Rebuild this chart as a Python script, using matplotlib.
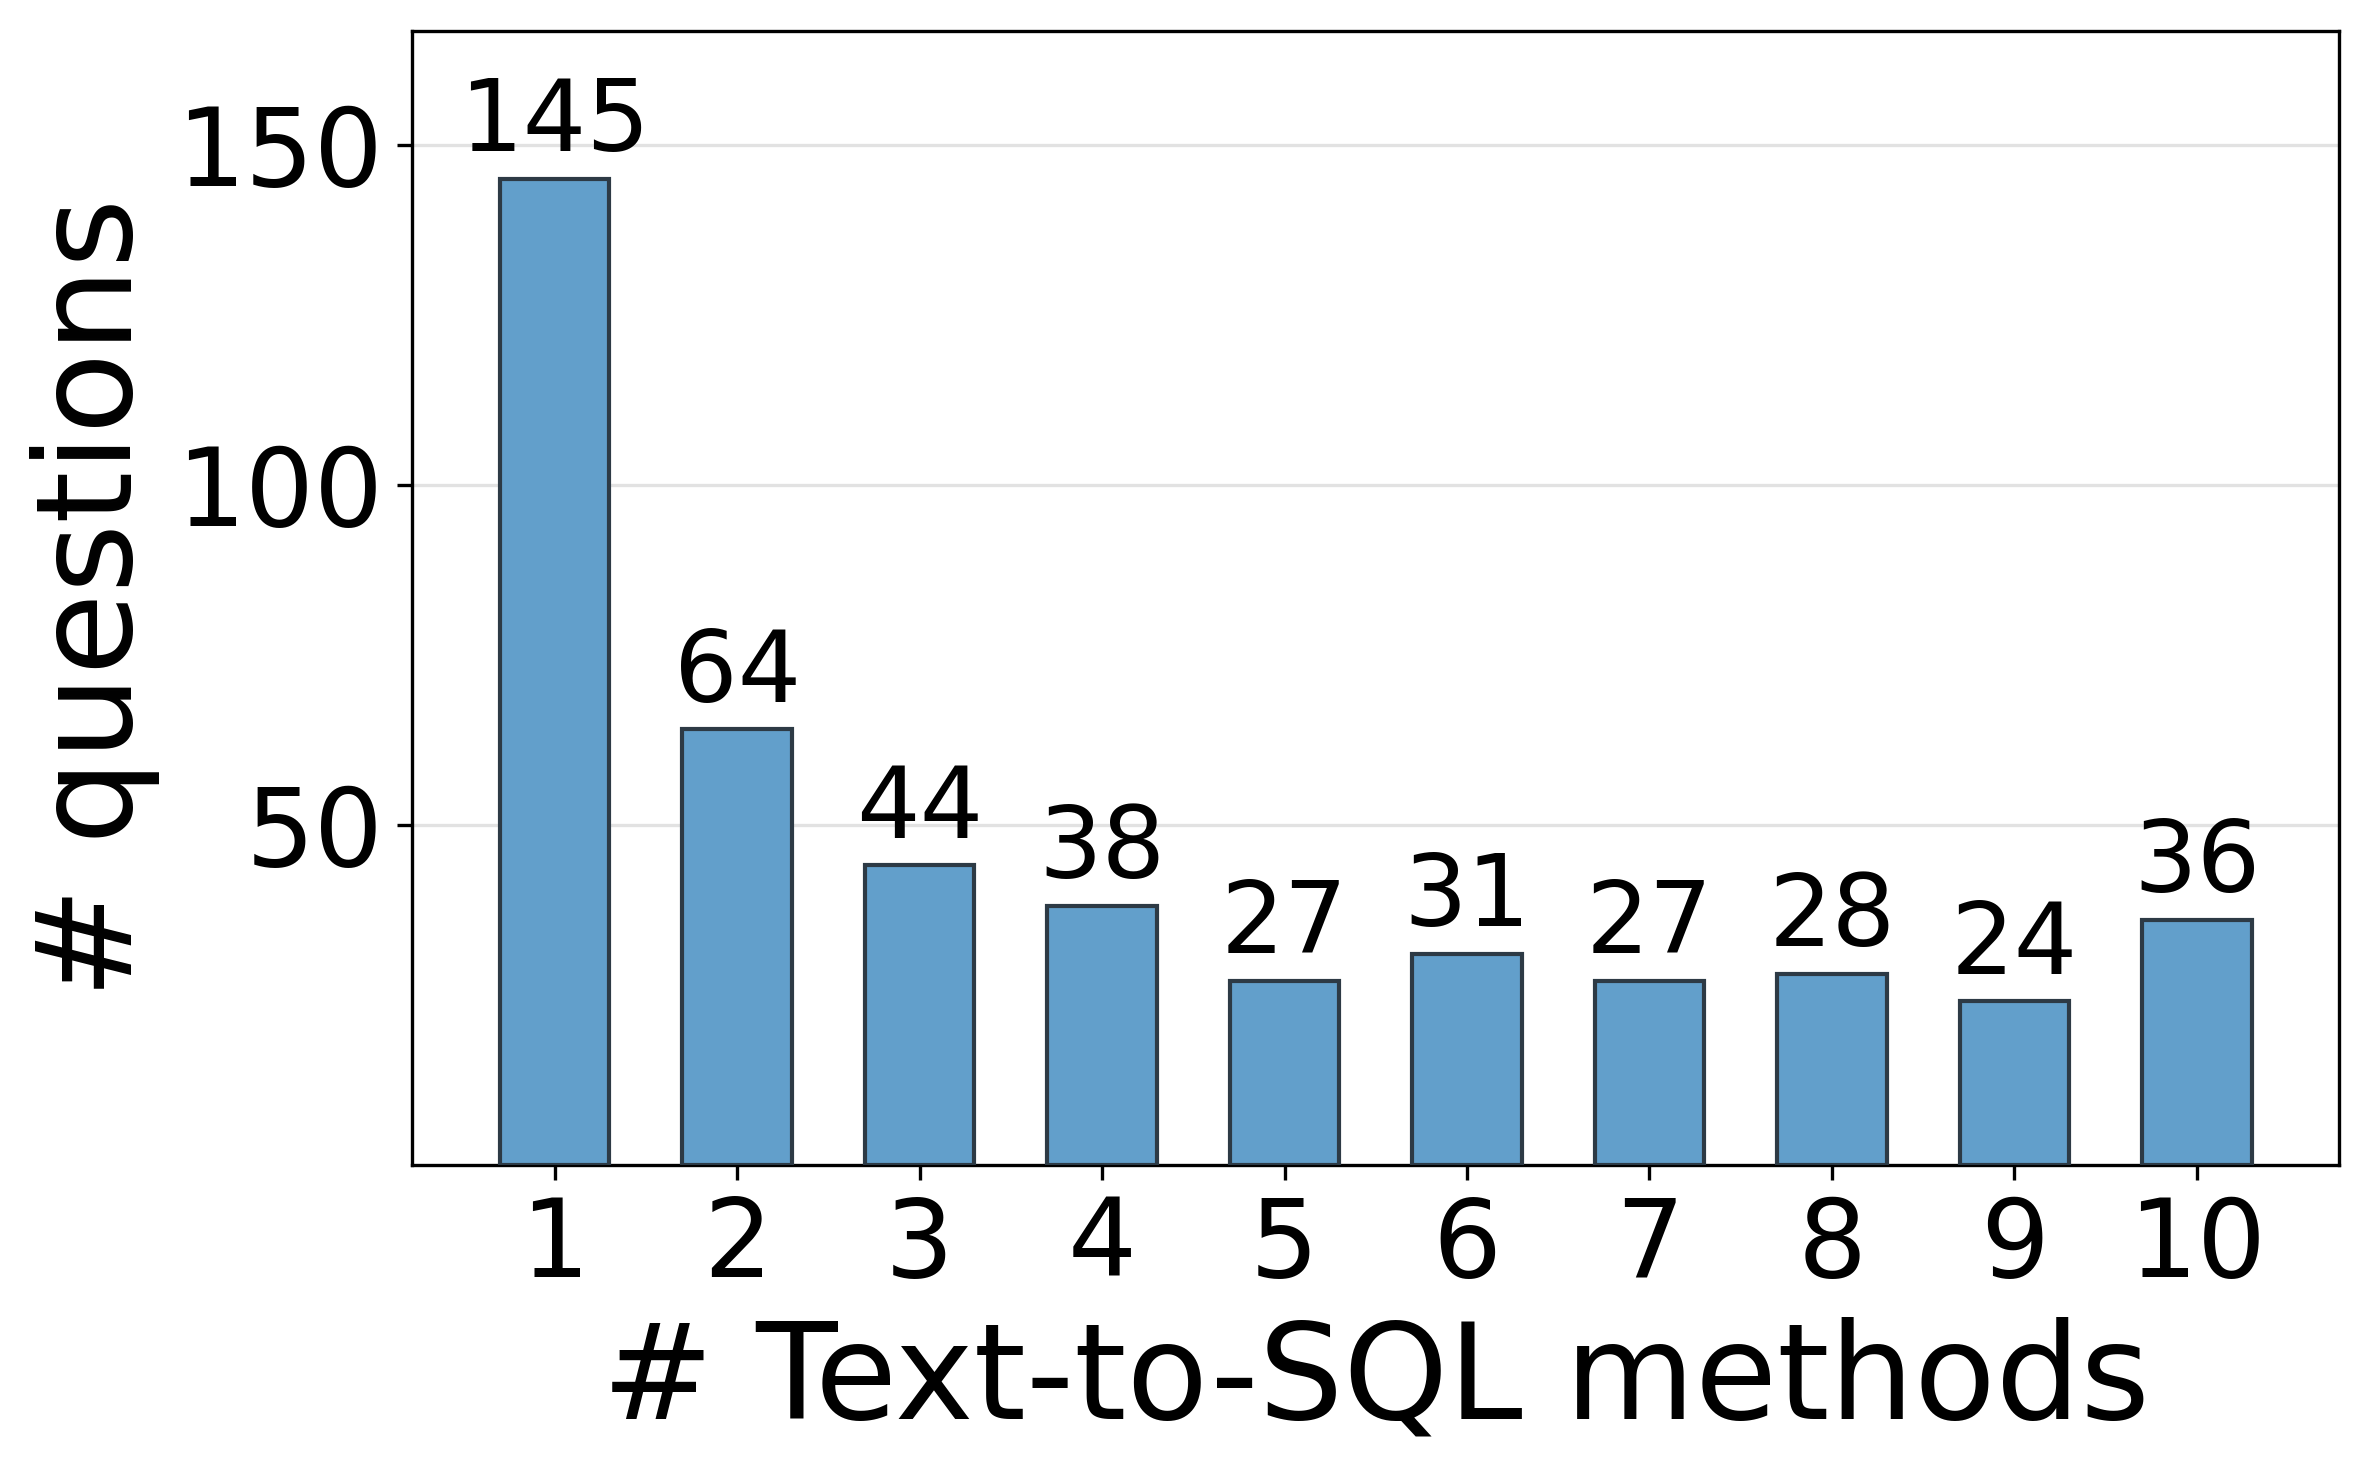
import numpy as np
import matplotlib
matplotlib.use("Agg")
import matplotlib.pyplot as plt

# data
n_methods = [1, 2, 3, 4, 5, 6, 7, 8, 9, 10]
n_questions = [145, 64, 44, 38, 27, 31, 27, 28, 24, 36]

fig = plt.figure(figsize=(7.9, 1475 / 300), dpi=300)
ax = fig.add_axes([0.174, 0.2105, 0.813, 0.7685])

bars = ax.bar(n_methods, n_questions, width=0.6, color='#629fcb',
              edgecolor='#2d3a45', linewidth=1.0, zorder=3)

# value labels on top of bars
for b, v in zip(bars, n_questions):
    ax.text(b.get_x() + b.get_width() / 2, v + 1, str(v),
            ha='center', va='bottom', fontsize=24)

ax.set_ylim(0, max(n_questions) * 1.15)
ax.set_xticks(n_methods)
ax.set_yticks([50, 100, 150])
ax.tick_params(axis='both', labelsize=26)
ax.grid(axis='y', color='#d0d0d0', alpha=0.6, linewidth=0.8, zorder=0)

ax.set_xlabel('# Text-to-SQL methods', fontsize=32)
ax.set_ylabel('# questions', fontsize=32)

fig.savefig('out.png', dpi=300)
